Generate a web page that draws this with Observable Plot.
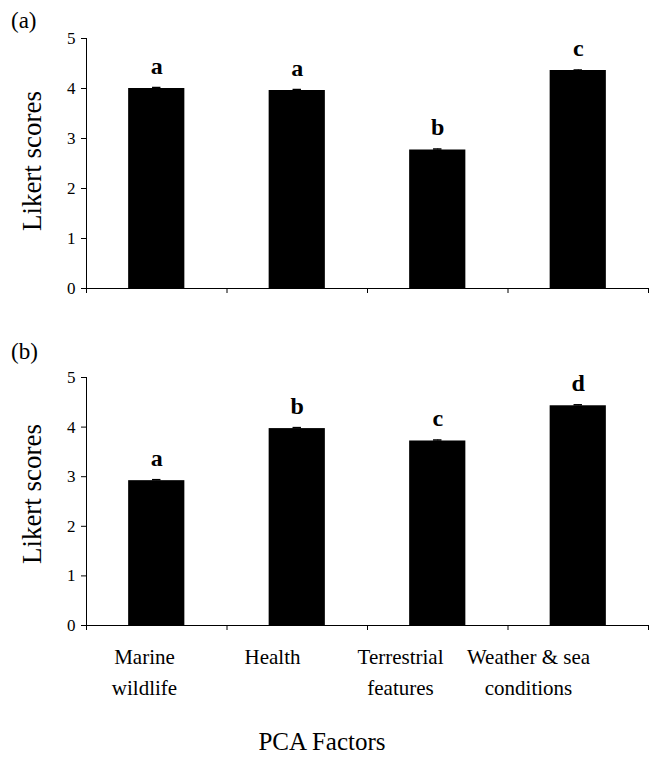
<!DOCTYPE html>
<html>
<head>
<meta charset="utf-8">
<script src="https://cdn.jsdelivr.net/npm/d3@7"></script>
<script src="https://cdn.jsdelivr.net/npm/@observablehq/plot@0.6"></script>
<style>
  html, body { margin: 0; padding: 0; background: #fff; }
  #root { position: relative; width: 668px; height: 757px; font-family: "Liberation Serif", "Times New Roman", serif; color: #000; }
  #root svg, #root svg text { font-family: "Liberation Serif", "Times New Roman", serif !important; }
  .abs { position: absolute; }
  .panel-label { font-size: 23px; line-height: 23px; }
  #xtitle { font-size: 25px; line-height: 25px; text-align: center; }
  .ytitle { width: 220px; height: 28px; line-height: 28px; font-size: 27px; text-align: center; transform: rotate(-90deg); white-space: nowrap; }
</style>
</head>
<body>
<div id="root">
  <div class="abs" id="panelA" style="left:0;top:0"></div>
  <div class="abs" id="panelB" style="left:0;top:339px"></div>
  <div class="abs" id="labels" style="left:0;top:641px"></div>
  <div class="abs panel-label" style="left:11px;top:9px">(a)</div>
  <div class="abs panel-label" style="left:11px;top:340px">(b)</div>
  <div class="abs ytitle" id="ytA" style="left:-78px;top:147px"></div>
  <div class="abs ytitle" id="ytB" style="left:-78px;top:480px"></div>
  <div class="abs" id="xtitle" style="left:0;top:729px;width:644px"></div>
</div>
<script>
// ---- Data ----
const categories = ["Marine wildlife", "Health", "Terrestrial features", "Weather & sea conditions"];
const categoryLabels = ["Marine\nwildlife", "Health", "Terrestrial\nfeatures", "Weather & sea\nconditions"];
const scoresA = [4.00, 3.96, 2.77, 4.36];
const errorsA = [0.02, 0.02, 0.02, 0.01];
const lettersA = ["a", "a", "b", "c"];
const scoresB = [2.92, 3.97, 3.72, 4.43];
const errorsB = [0.02, 0.02, 0.02, 0.02];
const lettersB = ["a", "b", "c", "d"];
const yTicks = [0, 1, 2, 3, 4, 5];
const yTitle = "Likert scores";
const xTitle = "PCA Factors";

document.getElementById("ytA").textContent = yTitle;
document.getElementById("ytB").textContent = yTitle;
document.getElementById("xtitle").textContent = xTitle;

const FONT = "Liberation Serif";

function panel(scores, errors, letters, height) {
  const data = categories.map((c, i) => ({ cat: c, i, v: scores[i], e: errors[i], letter: letters[i] }));
  const boundaries = d3.range(categories.length + 1);
  return Plot.plot({
    width: 668,
    height,
    marginLeft: 86,
    marginRight: 20,
    marginTop: 38,
    marginBottom: 12,
    style: { fontFamily: FONT, background: "white", color: "black", overflow: "visible" },
    x: { domain: [0, categories.length], axis: null },
    y: { domain: [0, 5], axis: null },
    marks: [
      Plot.rectY(data, { x1: d => d.i + 0.3, x2: d => d.i + 0.7, y: "v", fill: "black" }),
      Plot.ruleX(data, { x: d => d.i + 0.5, y1: "v", y2: d => d.v + d.e, stroke: "black", strokeWidth: 1 }),
      Plot.ruleY(data, { y: d => d.v + d.e, x1: d => d.i + 0.47, x2: d => d.i + 0.53, stroke: "black", strokeWidth: 1.5 }),
      Plot.ruleY([0], { stroke: "black", strokeWidth: 1 }),
      Plot.ruleX([0], { stroke: "black", strokeWidth: 1 }),
      Plot.axisX({ ticks: boundaries, tickSize: 5, tickFormat: () => "", stroke: "black" }),
      Plot.axisY({ ticks: yTicks, tickSize: 5, tickPadding: 6, tickFormat: d3.format("d"), fontSize: 17, label: null, stroke: "black", fill: "black" }),
      Plot.text(data, { x: d => d.i + 0.5, y: "v", text: "letter", dy: -15, lineAnchor: "bottom", fontSize: 24, fontWeight: "bold", fill: "black" })
    ]
  });
}

document.getElementById("panelA").append(panel(scoresA, errorsA, lettersA, 300));
document.getElementById("panelB").append(panel(scoresB, errorsB, lettersB, 298));

const labelData = categories.map((c, i) => ({ cat: c, label: categoryLabels[i] }));
document.getElementById("labels").append(Plot.plot({
  width: 668,
  height: 78,
  marginLeft: 144,
  marginRight: 140,
  marginTop: 0,
  marginBottom: 0,
  style: { fontFamily: FONT, background: "transparent", color: "black", overflow: "visible" },
  x: { type: "point", domain: categories, padding: 0, axis: null },
  marks: [
    Plot.text(labelData, { x: "cat", frameAnchor: "top", lineAnchor: "top", text: "label", fontSize: 21, lineHeight: 1.48, fill: "black" })
  ]
}));
</script>
</body>
</html>
